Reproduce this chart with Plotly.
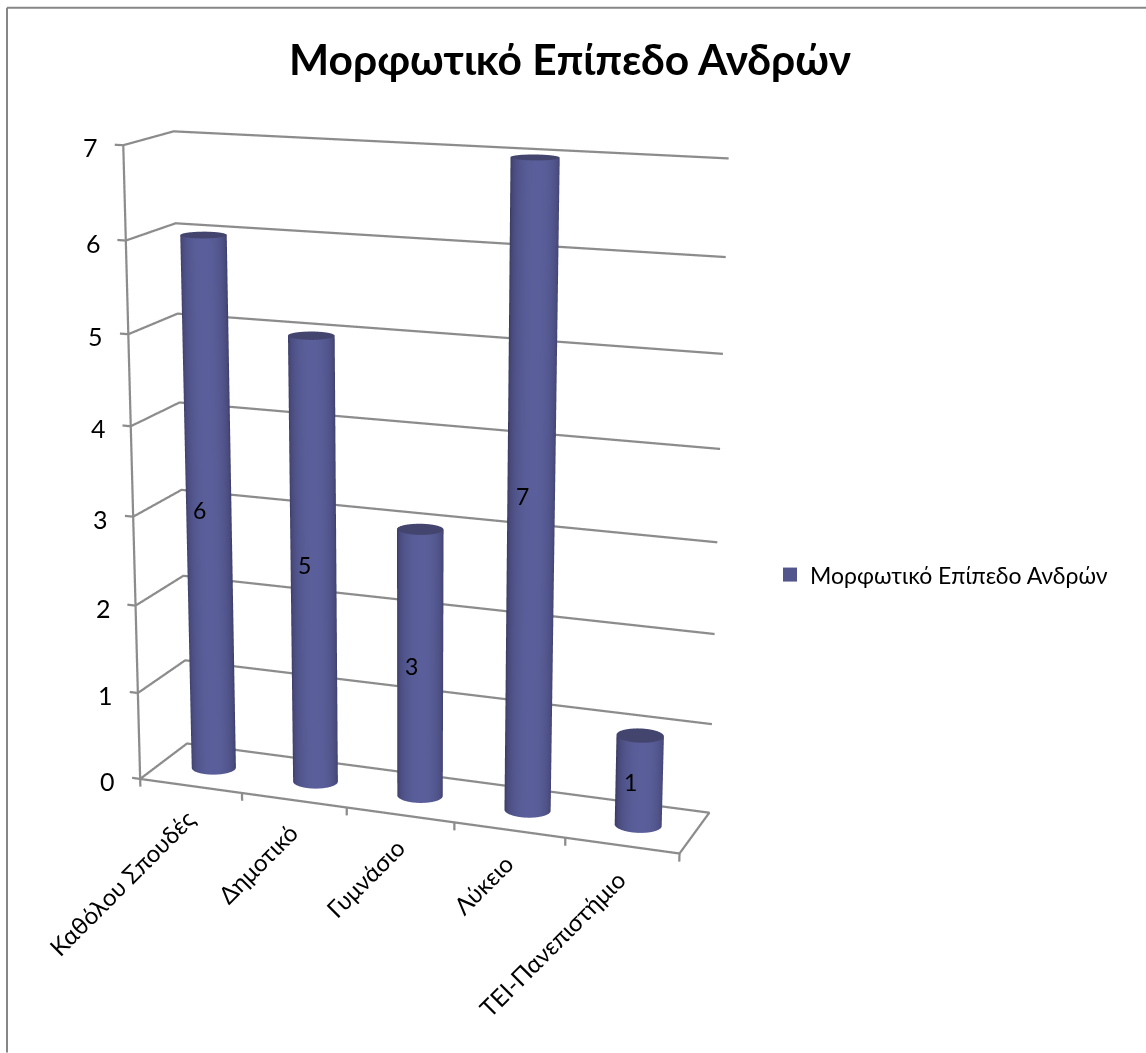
import numpy as np
import plotly.graph_objects as go

categories = ["Καθόλου Σπουδές", "Δημοτικό", "Γυμνάσιο", "Λύκειο", "ΤΕΙ-Πανεπιστήμιο"]
values = [6, 5, 3, 7, 1]
z_ticks = [0, 1, 2, 3, 4, 5, 6, 7]
series_name = "Μορφωτικό Επίπεδο Ανδρών"
title_text = "Μορφωτικό Επίπεδο Ανδρών"

W, H = 1146, 1053
xr = [-0.2, 5.02]; yr = [-0.02, 1.02]; zr = [-0.2, 7.05]
# camera recovered from the picture's perspective
eye = (1.52578, -4.07244, 1.13803)
arx, ary, arz = 1, 0.19760, 1.13134
fpx, ppx, ppy = 2729.77558, 410.65872, 489.87529

Hf=2*fpx*np.tan(np.pi/8)
top=ppy-Hf/2
half=max(ppx,740-ppx)
left=min(0,ppx-half)
Wf=W-left
Hfig=int(round(Hf))
def px(x): return (x-left)/Wf
def py(y): return 1-(y-top)/Hf

# cylinder cross-section: upright ellipse on screen, expressed in data units
theta=np.linspace(0,2*np.pi,73)
sa,sb=23.0,7.0
ox=(36*sa*np.cos(theta)+46*sb*np.sin(theta))/4424
oy=(14*sa*np.cos(theta)-105*sb*np.sin(theta))/4424
s=np.clip(np.sin(theta),0,1)
scale=[[0,"#37385f"],[0.45,"#4a4c7e"],[1,"#5a5f9b"]]
flat=dict(ambient=1,diffuse=0,specular=0,fresnel=0,roughness=1)
fig=go.Figure()
for i,v in enumerate(values):
    cx=i+0.5;cy=0.5
    X=np.array([cx+ox]*2)
    Y=np.array([cy+oy]*2)
    Z=np.array([np.zeros_like(theta),np.full_like(theta,v)])
    fig.add_surface(x=X,y=Y,z=Z,surfacecolor=np.array([s,s]),colorscale=scale,cmin=0,cmax=1,showscale=False,lighting=flat,hoverinfo="skip")
    rr=np.array([0,1.0])
    Xc=cx+np.outer(rr,ox);Yc=cy+np.outer(rr,oy);Zc=np.full_like(Xc,v)
    fig.add_surface(x=Xc,y=Yc,z=Zc,surfacecolor=np.zeros_like(Xc),colorscale=[[0,"#43456f"],[1,"#43456f"]],showscale=False,lighting=flat,hoverinfo="skip")
n=len(categories)
lx,ly,lz=[],[],[]
def seg(xs,ys,zs):
    lx.extend(xs+[None]);ly.extend(ys+[None]);lz.extend(zs+[None])
for t in z_ticks:
    seg([-0.08,0,0,n],[0,0,1,1],[t,t,t,t])
seg([0,0],[0,0],[0,7])
seg([0,n,n,0],[0,0,1,1],[0,0,0,0])
for i in range(n+1):
    seg([i,i],[0,0],[0,-0.09])
fig.add_scatter3d(x=lx,y=ly,z=lz,mode="lines",line=dict(color="#8c8c8c",width=4.5),showlegend=False,hoverinfo="skip")
fig.add_scatter3d(x=[0.5],y=[0.5],z=[0.5],mode="markers",name=series_name,marker=dict(symbol="square",size=14,color="#53558d"),hoverinfo="skip")
ann=[]
for t in z_ticks:
    ann.append(dict(x=0,y=0,z=t,text=str(t),showarrow=False,xanchor="right",yanchor="middle",xshift=-23,yshift=-2,font=dict(size=25,color="black")))
for i,c in enumerate(categories):
    ann.append(dict(x=i+0.5,y=0,z=-0.2,text=c,textangle=-45,showarrow=False,xanchor="right",yanchor="top",xshift=12,yshift=2,font=dict(size=24,color="black")))
for i,v in enumerate(values):
    ann.append(dict(x=i+0.5,y=0.5,z=v/2,text=str(v),showarrow=False,xshift=-9,yshift=-2,font=dict(size=23,color="black")))
hid=dict(showgrid=False,showticklabels=False,zeroline=False,showline=False,showbackground=False,showspikes=False,ticks="",title="")
fig.update_layout(width=int(round(Wf)),height=Hfig,margin=dict(l=0,r=0,t=0,b=0),paper_bgcolor="white",
    font=dict(family="Lato"),
    title=dict(text=f"<b>{title_text}</b>",x=px(570),xanchor="center",y=py(60),yanchor="middle",font=dict(size=42.5,color="black")),
    legend=dict(x=px(770),y=py(575),xanchor="left",yanchor="middle",font=dict(size=23,color="black"),bgcolor="rgba(0,0,0,0)"),
    scene=dict(domain=dict(x=[px(ppx-half),px(ppx+half)],y=[0,1]),aspectmode="manual",aspectratio=dict(x=arx,y=ary,z=arz),
        camera=dict(eye=dict(x=eye[0],y=eye[1],z=eye[2]),center=dict(x=0,y=0,z=0),up=dict(x=0,y=0,z=1),projection=dict(type="perspective")),
        xaxis=dict(range=xr,**hid),yaxis=dict(range=yr,**hid),zaxis=dict(range=zr,**hid),annotations=ann),
    shapes=[dict(type="line",xref="paper",yref="paper",x0=px(7),x1=px(7),y0=py(8),y1=py(1053),line=dict(color="#868686",width=2)),
            dict(type="line",xref="paper",yref="paper",x0=px(7),x1=px(1146),y0=py(8),y1=py(8),line=dict(color="#868686",width=2))])
css=f"document.body.style.margin='0';document.body.style.overflow='hidden';var g=document.querySelector('.plotly-graph-div');g.style.position='absolute';g.style.left='{left}px';g.style.top='{top}px';"
fig.write_html("out.html",post_script=css,config=dict(displayModeBar=False))
